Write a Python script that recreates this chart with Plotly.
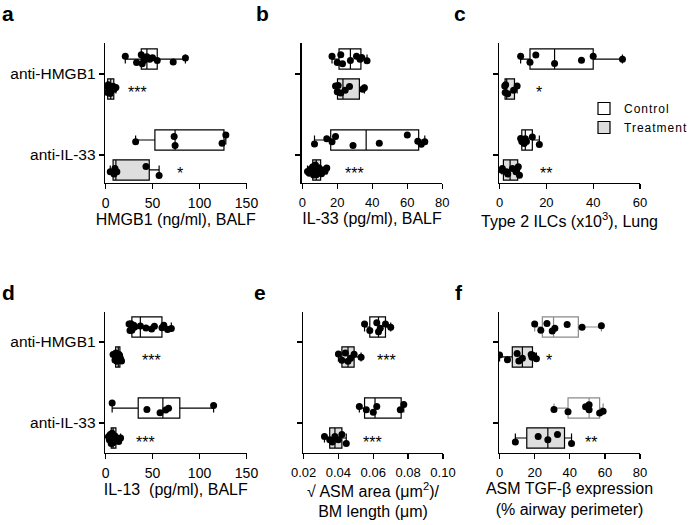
import numpy as np
import plotly.graph_objects as go

CATS = ["anti-HMGB1", "anti-IL-33"]
GROUPS = ["Control", "Treatment"]

# ---- panel a : HMGB1 (ng/ml), BALF
a_ctrl_hmgb1 = [21, 33, 38, 39, 41, 44, 47, 50, 55, 72, 85]
a_trt_hmgb1 = [1, 2, 3, 5, 6, 8, 9, 11]
a_ctrl_il33 = [32, 73, 74, 124, 128]
a_trt_il33 = [5, 9, 10, 12, 43, 57]
# ---- panel b : IL-33 (pg/ml), BALF
b_ctrl_hmgb1 = [17, 20, 22, 23, 27.5, 31, 33, 34, 37]
b_trt_hmgb1 = [19, 20, 20.5, 22, 24.5, 27, 34.5, 35.5]
b_ctrl_il33 = [7, 14, 17, 19, 29, 44, 60, 66, 68, 70]
b_trt_il33 = [3, 4, 5, 5.5, 6, 6.5, 7, 7.5, 8, 8, 8.5, 9, 9.5, 10, 10.5, 11, 12, 13, 14]
# ---- panel c : Type 2 ILCs (x10^3), Lung
c_ctrl_hmgb1 = [9, 13, 15.5, 23.5, 35, 40, 52.5]
c_trt_hmgb1 = [2.2, 2.4, 2.6, 3.5, 6.0, 7.5]
c_ctrl_il33 = [9, 9.5, 10.5, 11, 11.5, 14, 17]
c_trt_il33 = [1, 1.2, 3, 3.5, 5.5, 7, 8, 8.5]
# ---- panel d : IL-13 (pg/ml), BALF
d_ctrl_hmgb1 = [25, 26, 27, 28, 29, 30, 31, 37, 43, 49, 52, 60, 62, 66, 70]
d_trt_hmgb1 = [8, 10, 11, 12, 13, 14, 14.5, 15, 16, 17]
d_ctrl_il33 = [7, 44, 58, 64, 67, 115]
d_trt_il33 = [3, 4, 5, 6, 6.5, 7, 7.5, 8, 8.5, 9, 10, 11, 12, 14, 16]
# ---- panel e : sqrt ASM area / BM length
e_ctrl_hmgb1 = [0.055, 0.058, 0.062, 0.063, 0.064, 0.067, 0.070]
e_trt_hmgb1 = [0.040, 0.042, 0.044, 0.0455, 0.047, 0.049, 0.053]
e_ctrl_il33 = [0.052, 0.056, 0.060, 0.062, 0.0755, 0.0775]
e_trt_il33 = [0.032, 0.035, 0.0365, 0.038, 0.040, 0.042, 0.0445]
# ---- panel f : ASM TGF-beta expression
f_ctrl_hmgb1 = [20, 23.5, 27, 30, 31.5, 38.5, 47, 58]
f_trt_hmgb1 = [0, 4.5, 10, 11, 13, 18, 18.5, 19, 21]
f_ctrl_il33 = [31, 39, 49, 51, 51, 57, 59]
f_trt_il33 = [9, 22, 27.5, 33, 41]

# significance marks: (text, x value) for treatment rows [anti-HMGB1, anti-IL-33]
a_sig = [("***", 34), ("*", 79)]
b_sig = [(None, None), ("***", 30)]
c_sig = [("*", 17), ("**", 20)]
d_sig = [("***", 48.6), ("***", 42)]
e_sig = [("***", 0.0673), ("***", 0.0595)]
f_sig = [("*", 28.3), ("**", 52.3)]

x_titles = [
    "HMGB1 (ng/ml), BALF",
    "IL-33 (pg/ml), BALF",
    "Type 2 ILCs (x10<sup>3</sup>), Lung",
    "IL-13  (pg/ml), BALF",
    "\u221a ASM area (\u03bcm<sup>2</sup>)/<br>BM length (\u03bcm)",
    "ASM TGF-\u03b2 expression<br>(% airway perimeter)",
]
x_ticks = [
    [0, 50, 100, 150],
    [0, 20, 40, 60, 80],
    [0, 20, 40, 60],
    [0, 50, 100, 150],
    [0.02, 0.04, 0.06, 0.08, 0.10],
    [0, 20, 40, 60, 80],
]
panel_letters = ["a", "b", "c", "d", "e", "f"]

panels = [
    (a_ctrl_hmgb1, a_trt_hmgb1, a_ctrl_il33, a_trt_il33, a_sig),
    (b_ctrl_hmgb1, b_trt_hmgb1, b_ctrl_il33, b_trt_il33, b_sig),
    (c_ctrl_hmgb1, c_trt_hmgb1, c_ctrl_il33, c_trt_il33, c_sig),
    (d_ctrl_hmgb1, d_trt_hmgb1, d_ctrl_il33, d_trt_il33, d_sig),
    (e_ctrl_hmgb1, e_trt_hmgb1, e_ctrl_il33, e_trt_il33, e_sig),
    (f_ctrl_hmgb1, f_trt_hmgb1, f_ctrl_il33, f_trt_il33, f_sig),
]

W, H = 691, 525
FONT = "Liberation Sans, Arial, Helvetica, sans-serif"
# plot-area boxes in pixels (left, right, top, bottom)
boxes_px = [
    (105, 246.5, 43, 183), (301.7, 442.3, 43, 183), (499, 640, 43, 183),
    (105, 246.5, 312, 453), (303, 443, 312, 453), (499, 640, 312, 453),
]
letter_px = [(0, 0), (254, 0), (452, 0), (0, 279), (252, 279), (453, 279)]
tick_sizes = [14, 13, 13, 14, 13, 13]

def quart(v):
    return np.percentile(v, [25, 50, 75], method="weibull")

fig = go.Figure()
layout = dict(
    width=W, height=H, margin=dict(l=0, r=0, t=0, b=0),
    plot_bgcolor="white", paper_bgcolor="white",
    boxmode="group", boxgap=0.26, boxgroupgap=0.32,
    font=dict(family=FONT, color="black", size=15),
    showlegend=True,
    legend=dict(x=584 / W, y=1 - 94 / H, xanchor="left", yanchor="top",
                traceorder="reversed", font=dict(size=12, family=FONT),
                bgcolor="rgba(0,0,0,0)", tracegroupgap=0, itemwidth=30),
)
annotations = []

for p, (ch, th, ci, ti, sig) in enumerate(panels):
    idx = p + 1
    xa = "x" if idx == 1 else f"x{idx}"
    ya = "y" if idx == 1 else f"y{idx}"
    l, r, t, b = boxes_px[p]
    series = {"Treatment": (th, ti), "Control": (ch, ci)}
    for g in ["Treatment", "Control"]:
        s1, s2 = series[g]
        q = [quart(s1), quart(s2)]
        line_col = "black"
        if p == 5 and g == "Control":
            line_col = "#8a8a8a"
        fig.add_trace(go.Box(
            name=g, orientation="h",
            y=CATS, x=[s1, s2],
            q1=[q[0][0], q[1][0]], median=[q[0][1], q[1][1]], q3=[q[0][2], q[1][2]],
            lowerfence=[min(s1), min(s2)], upperfence=[max(s1), max(s2)],
            boxpoints="all", jitter=0.55, pointpos=0,
            fillcolor="white" if g == "Control" else "#dedede",
            line=dict(color=line_col, width=1.2),
            marker=dict(color="black", size=7),
            whiskerwidth=0.45,
            alignmentgroup=f"panel{idx}", offsetgroup=g,
            xaxis=xa, yaxis=ya,
            showlegend=(p == 2), legendgroup=g,
            hoverinfo="skip",
        ))
    xkey = "xaxis" if idx == 1 else f"xaxis{idx}"
    ykey = "yaxis" if idx == 1 else f"yaxis{idx}"
    tv = x_ticks[p]
    span = tv[-1] - tv[0]
    layout[xkey] = dict(
        domain=[l / W, r / W], anchor=ya,
        range=[tv[0] - span * 0.004, tv[-1]],
        tickvals=tv,
        ticktext=[f"{v:.2f}" for v in tv] if p == 4 else [str(v) for v in tv],
        showline=True, linecolor="black", linewidth=1.3,
        ticks="outside", ticklen=5, tickwidth=1.3, tickcolor="black",
        showgrid=False, zeroline=False,
        ticklabelstandoff=2,
        tickfont=dict(size=tick_sizes[p], family=FONT),
        title=dict(text=x_titles[p], font=dict(size=16, family=FONT), standoff=0),
        automargin=False, fixedrange=True,
    )
    ntop, nbot = (1.383, -0.346) if p < 3 else (1.37, -0.37)
    layout[ykey] = dict(
        domain=[1 - b / H, 1 - t / H], anchor=xa,
        type="category", categoryorder="array", categoryarray=["anti-IL-33", "anti-HMGB1"],
        range=[nbot, ntop],
        showline=True, linecolor="black", linewidth=1.3,
        ticks="outside", ticklen=5, tickwidth=1.3, tickcolor="black",
        showgrid=False, zeroline=False,
        showticklabels=(p in (0, 3)),
        tickfont=dict(size=15.5, family=FONT),
        automargin=False, fixedrange=True,
    )
    # significance marks
    for k, (txt, xv) in enumerate(sig):
        if txt is None:
            continue
        catpos = 1 if k == 0 else 0
        annotations.append(dict(
            text=txt, x=xv, y=catpos - 0.185, xref=xa, yref=ya,
            showarrow=False, font=dict(size=16, family=FONT), yshift=-4,
        ))
    lx, ly = letter_px[p]
    annotations.append(dict(
        text=f"<b>{panel_letters[p]}</b>", x=lx / W, y=1 - ly / H,
        xref="paper", yref="paper", xanchor="left", yanchor="top",
        showarrow=False, font=dict(size=21, family=FONT),
    ))

layout["annotations"] = annotations
fig.update_layout(**layout)
fig.write_html(
    "out.html",
    config={"displayModeBar": False, "staticPlot": True},
    post_script=(
        "document.body.style.margin='0';document.body.style.padding='0';"
        "document.querySelectorAll('.legend .scrollbox').forEach(function(e){e.removeAttribute('clip-path');});"
        "document.querySelectorAll('.legendtext').forEach(function(e){e.style.letterSpacing='1px';});"
    ),
)
